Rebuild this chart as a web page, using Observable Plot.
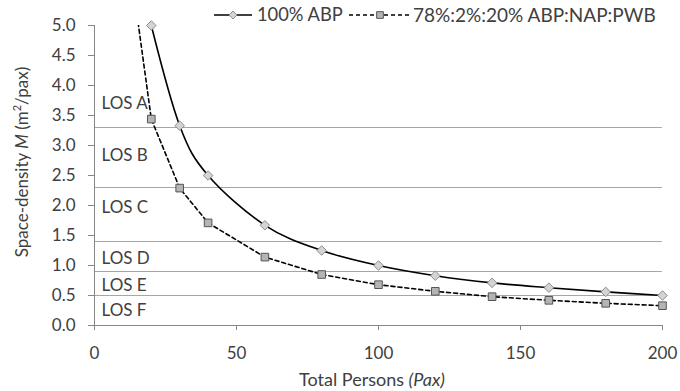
<!DOCTYPE html>
<html>
<head>
<meta charset="utf-8">
<script src="https://cdn.jsdelivr.net/npm/d3@7"></script>
<script src="https://cdn.jsdelivr.net/npm/@observablehq/plot@0.6"></script>
<style>
  html, body { margin: 0; padding: 0; background: #fff; }
  #chart { position: relative; width: 680px; height: 391px; }
  svg { font-family: Lato, "Open Sans", sans-serif; }
</style>
</head>
<body>
<div id="chart"></div>
<script>
// ---- data ----
const persons = [20, 30, 40, 60, 80, 100, 120, 140, 160, 180, 200];
const abp100 = [5.0, 3.33, 2.5, 1.67, 1.25, 1.0, 0.83, 0.71, 0.63, 0.56, 0.5];
const mixPersons = [10, 20, 30, 40, 60, 80, 100, 120, 140, 160, 180, 200];
const mixValues = [6.9, 3.44, 2.29, 1.71, 1.14, 0.85, 0.68, 0.57, 0.48, 0.42, 0.37, 0.33];
const losThresholds = [3.3, 2.3, 1.4, 0.9, 0.5];
const losNames = ["LOS A", "LOS B", "LOS C", "LOS D", "LOS E", "LOS F"];
const losLabelY = [3.7, 2.83, 1.97, 1.11, 0.67, 0.25];
const xTicks = [0, 50, 100, 150, 200];
const yTicks = [0, 0.5, 1, 1.5, 2, 2.5, 3, 3.5, 4, 4.5, 5];
const seriesNames = ["100% ABP", "78%:2%:20% ABP:NAP:PWB"];

const s1 = persons.map((x, i) => ({x, y: abp100[i]}));
const s2 = mixPersons.map((x, i) => ({x, y: mixValues[i]}));
const s2dots = s2.filter(d => d.y <= 5);
const los = losNames.map((name, i) => ({name, y: losLabelY[i]}));

const textColor = "#404040";
const axisColor = "#868686";
const fontStack = "Lato, 'Open Sans', sans-serif";

const plot = Plot.plot({
  width: 680,
  height: 391,
  marginLeft: 94,
  marginRight: 18,
  marginTop: 25,
  marginBottom: 66,
  style: {fontFamily: fontStack, fontSize: "17px", color: textColor, background: "#fff"},
  x: {domain: [0, 200]},
  y: {domain: [0, 5]},
  marks: [
    Plot.ruleY(losThresholds, {stroke: "#a6a6a6", strokeWidth: 1}),
    Plot.ruleY([0], {stroke: axisColor}),
    Plot.ruleX([0], {stroke: axisColor}),
    Plot.axisX({ticks: xTicks, tickSize: 5, tickPadding: 16, stroke: axisColor, label: null, fill: textColor, fontSize: 17}),
    Plot.axisY({ticks: yTicks, tickSize: 6, tickPadding: 13, tickFormat: d3.format(".1f"), stroke: axisColor, label: null, fill: textColor, fontSize: 17}),
    Plot.text(los, {x: () => 0, y: "y", text: "name", dx: 7, textAnchor: "start", fill: textColor, fontSize: 17}),
    Plot.line(s2, {x: "x", y: "y", stroke: "#000", strokeWidth: 1.6, strokeDasharray: "4,3", clip: true}),
    Plot.line(s1, {x: "x", y: "y", stroke: "#000", strokeWidth: 1.6, curve: "cardinal"}),
    Plot.dot(s2dots, {x: "x", y: "y", symbol: "square", r: 4.3, fill: "#b4b4b4", stroke: "#555", strokeWidth: 1}),
    Plot.dot(s1, {x: "x", y: "y", symbol: d3.symbolDiamond2, r: 4.3, fill: "#d4d4d4", stroke: "#8c8c8c", strokeWidth: 1})
  ]
});

document.getElementById("chart").appendChild(plot);

// titles and legend added as real text
const svg = d3.select(plot);
const yTitle = svg.append("text")
  .attr("transform", "translate(28,162) rotate(-90)")
  .attr("text-anchor", "middle")
  .attr("fill", textColor)
  .style("font-size", "17px");
yTitle.append("tspan").text("Space-density ");
yTitle.append("tspan").attr("font-style", "italic").text("M");
yTitle.append("tspan").text(" (m");
yTitle.append("tspan").attr("font-size", "11px").attr("dy", "-7").text("2");
yTitle.append("tspan").attr("dy", "7").text("/pax)");

const xTitle = svg.append("text")
  .attr("x", 372).attr("y", 386)
  .attr("text-anchor", "middle")
  .attr("fill", textColor)
  .style("font-size", "18px");
xTitle.append("tspan").text("Total Persons ");
xTitle.append("tspan").attr("font-style", "italic").text("(Pax)");

// legend
const leg = svg.append("g");
const l1 = leg.append("g").attr("transform", "translate(214,15)");
l1.append("line").attr("x1", 0).attr("x2", 38).attr("stroke", "#000").attr("stroke-width", 1.6);
l1.append("path").attr("d", d3.symbol(d3.symbolDiamond2, 40)()).attr("transform", "translate(19,0)").attr("fill", "#d4d4d4").attr("stroke", "#8c8c8c");
l1.append("text").attr("x", 43).attr("dy", "0.35em").attr("text-anchor", "start").attr("fill", textColor).style("font-size", "18.3px").text(seriesNames[0]);

const l2 = leg.append("g").attr("transform", "translate(349,15)");
l2.append("line").attr("x1", 0).attr("x2", 61).attr("stroke", "#000").attr("stroke-width", 1.3).attr("stroke-dasharray", "4,3");
l2.append("path").attr("d", d3.symbol(d3.symbolSquare, 45)()).attr("transform", "translate(31,0)").attr("fill", "#b4b4b4").attr("stroke", "#555");
l2.append("text").attr("x", 64).attr("dy", "0.35em").attr("text-anchor", "start").attr("fill", textColor).style("font-size", "19px").text(seriesNames[1]);
</script>
</body>
</html>
